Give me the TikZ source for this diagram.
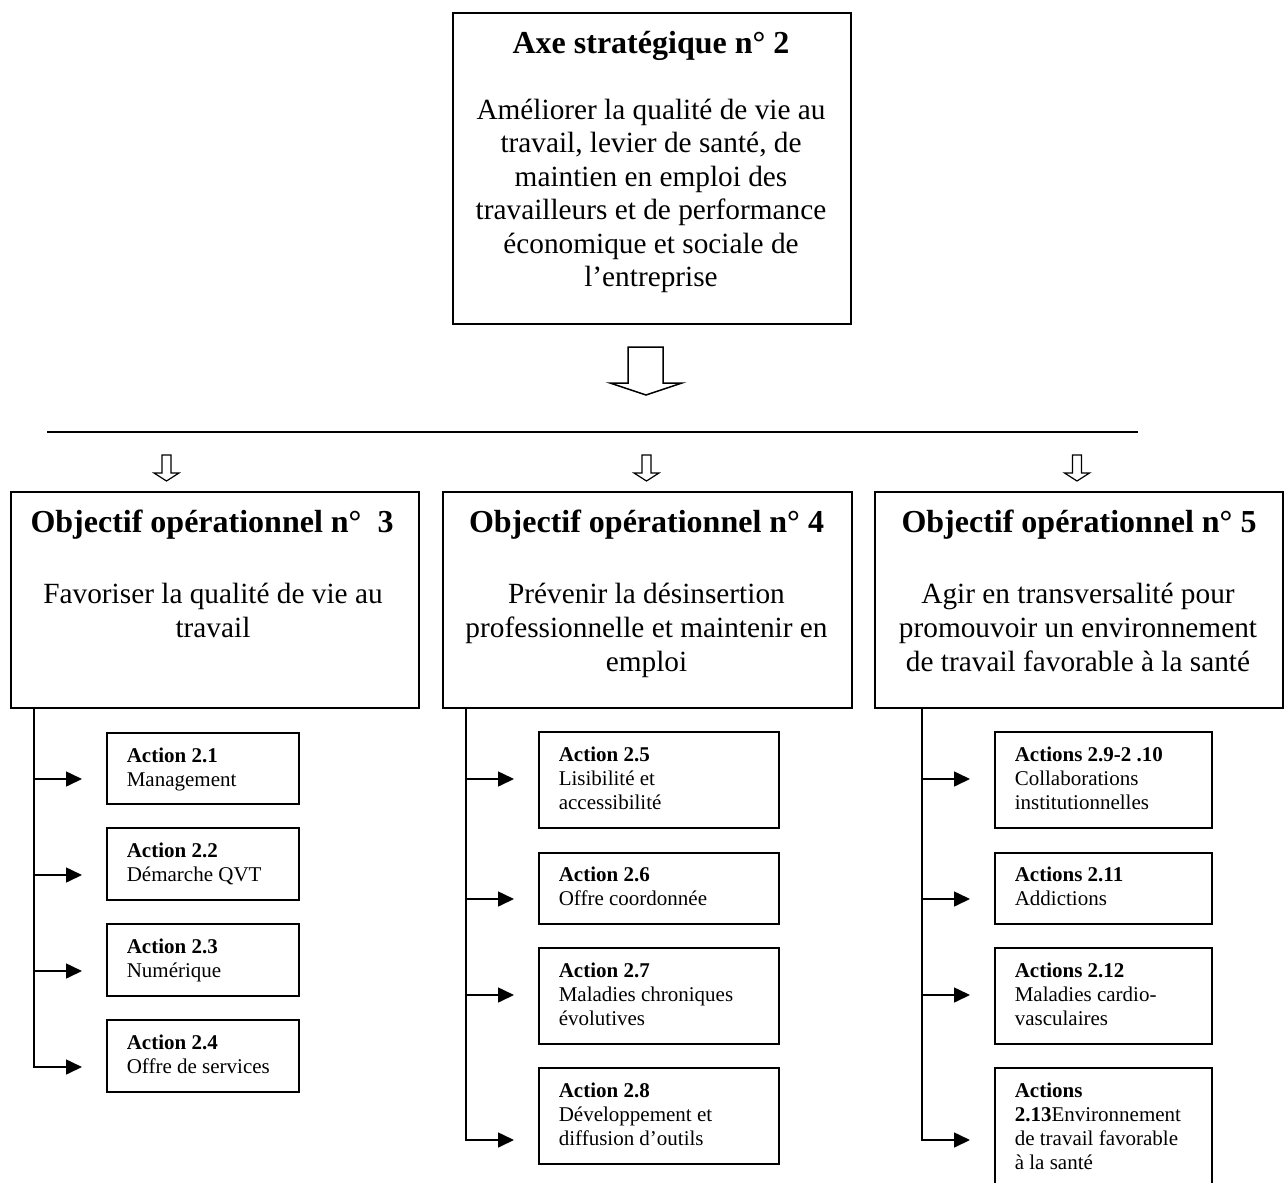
\documentclass[tikz,border=0pt]{standalone}
\usepackage{fontspec}
\setmainfont{Liberation Serif}
\usetikzlibrary{arrows.meta,calc}
\begin{document}
\begin{tikzpicture}[x=1pt,y=-1pt, line width=1.6pt,
  box/.style={draw, rectangle, inner sep=0pt, anchor=north west},
  ttl/.style={font=\fontsize{32}{38}\selectfont\bfseries, inner sep=0pt, anchor=base},
  topbody/.style={font=\fontsize{29.3}{33.5}\selectfont, align=center, inner sep=0pt, anchor=base},
  objbody/.style={font=\fontsize{29.3}{34}\selectfont, align=center, inner sep=0pt, anchor=base},
  act/.style={font=\fontsize{21}{24}\selectfont, align=left, inner sep=0pt, anchor=base west},
  arr/.style={-{Triangle[length=16pt,width=15pt]}, line width=1.6pt, shorten >=24pt},
  hollow/.style={draw, line width=1.3pt, fill=white, line join=miter},
  smallarrow/.pic={\draw[hollow, line width=1.2pt] (-4.5,0) -- (4.5,0) -- (4.5,18) -- (12.5,18) -- (0,26) -- (-12.5,18) -- (-4.5,18) -- cycle;}
]
\useasboundingbox (0,0) rectangle (1288,1183);
\clip (0,0) rectangle (1288,1183);

% top box (base anchor = baseline of last line)
\node[box, minimum width=398pt, minimum height=311pt] (axe) at (452,12) {};
\node[ttl] (axet) at (651,53) {Axe stratégique n° 2};
\node[topbody] (axeb) at (651,286.5) {Améliorer la qualité de vie au\\travail, levier de santé, de\\maintien en emploi des\\travailleurs et de performance\\économique et sociale de\\l’entreprise};

% big hollow arrow
\draw[hollow, line width=1.5pt] (628,347) -- (663,347) -- (663,383) -- (682,383) -- (646,395) -- (610,383) -- (628,383) -- cycle;

% horizontal line
\coordinate (lineL) at (47,432);
\coordinate (lineR) at (1138,432);
\draw (lineL) -- (lineR);

% small arrows
\pic at (166.5,455) {smallarrow};
\pic at (646.5,455) {smallarrow};
\pic at (1077,455) {smallarrow};

% objective boxes
\node[box, minimum width=408pt, minimum height=216pt] (o1) at (10,491) {};
\node[box, minimum width=409pt, minimum height=216pt] (o2) at (442,491) {};
\node[box, minimum width=408pt, minimum height=216pt] (o3) at (874,491) {};

\node[ttl] (o1t) at (212,532) {Objectif opérationnel n°\ \ 3};
\node[ttl] (o2t) at (646.5,532) {Objectif opérationnel n° 4};
\node[ttl] (o3t) at (1079,532) {Objectif opérationnel n° 5};

\node[objbody] (o1b) at (213,637) {Favoriser la qualité de vie au\\travail};
\node[objbody] (o2b) at (646.5,671) {Prévenir la désinsertion\\professionnelle et maintenir en\\emploi};
\node[objbody] (o3b) at (1078,671) {Agir en transversalité pour\\promouvoir un environnement\\de travail favorable à la santé};

% column 1 actions
\node[box, minimum width=192pt, minimum height=71pt] (a1) at (106,732) {};
\node[box, minimum width=192pt, minimum height=72pt] (a2) at (106,827) {};
\node[box, minimum width=192pt, minimum height=72pt] (a3) at (106,923) {};
\node[box, minimum width=192pt, minimum height=72pt] (a4) at (106,1019) {};
\node[act] (a1t) at ([xshift=20pt,yshift=-54pt]a1.north west) {\textbf{Action 2.1}\\Management};
\node[act] (a2t) at ([xshift=20pt,yshift=-54pt]a2.north west) {\textbf{Action 2.2}\\Démarche QVT};
\node[act] (a3t) at ([xshift=20pt,yshift=-54pt]a3.north west) {\textbf{Action 2.3}\\Numérique};
\node[act] (a4t) at ([xshift=20pt,yshift=-54pt]a4.north west) {\textbf{Action 2.4}\\Offre de services};

\coordinate (s1) at (34,707);
\coordinate (p1) at (34,779);
\coordinate (p2) at (34,875);
\coordinate (p3) at (34,971);
\coordinate (p4) at (34,1067);
\draw[arr] (p1) -- (p1 -| a1.west);
\draw[arr] (p2) -- (p2 -| a2.west);
\draw[arr] (p3) -- (p3 -| a3.west);
\draw[arr] (s1) -- (p4) -- (p4 -| a4.west);

% column 2 actions
\node[box, minimum width=240pt, minimum height=96pt] (a5) at (538,731) {};
\node[box, minimum width=240pt, minimum height=71pt] (a6) at (538,852) {};
\node[box, minimum width=240pt, minimum height=96pt] (a7) at (538,947) {};
\node[box, minimum width=240pt, minimum height=96pt] (a8) at (538,1067) {};
\node[act] (a5t) at ([xshift=20pt,yshift=-78pt]a5.north west) {\textbf{Action 2.5}\\Lisibilité et\\accessibilité};
\node[act] (a6t) at ([xshift=20pt,yshift=-53pt]a6.north west) {\textbf{Action 2.6}\\Offre coordonnée};
\node[act] (a7t) at ([xshift=20pt,yshift=-78pt]a7.north west) {\textbf{Action 2.7}\\Maladies chroniques\\évolutives};
\node[act] (a8t) at ([xshift=20pt,yshift=-78pt]a8.north west) {\textbf{Action 2.8}\\Développement et\\diffusion d’outils};

\coordinate (s2) at (466,707);
\coordinate (p5) at (466,779);
\coordinate (p6) at (466,899);
\coordinate (p7) at (466,995);
\coordinate (p8) at (466,1140);
\draw[arr] (p5) -- (p5 -| a5.west);
\draw[arr] (p6) -- (p6 -| a6.west);
\draw[arr] (p7) -- (p7 -| a7.west);
\draw[arr] (s2) -- (p8) -- (p8 -| a8.west);

% column 3 actions
\node[box, minimum width=217pt, minimum height=96pt] (a9) at (994,731) {};
\node[box, minimum width=217pt, minimum height=71pt] (a10) at (994,852) {};
\node[box, minimum width=217pt, minimum height=96pt] (a11) at (994,947) {};
\node[box, minimum width=217pt, minimum height=130pt] (a12) at (994,1067) {};
\node[act] (a9t) at ([xshift=20pt,yshift=-78pt]a9.north west) {\textbf{Actions 2.9-2 .10}\\Collaborations\\institutionnelles};
\node[act] (a10t) at ([xshift=20pt,yshift=-53pt]a10.north west) {\textbf{Actions 2.11}\\Addictions};
\node[act] (a11t) at ([xshift=20pt,yshift=-78pt]a11.north west) {\textbf{Actions 2.12}\\Maladies cardio-\\vasculaires};
\node[act] (a12t) at ([xshift=20pt,yshift=-102pt]a12.north west) {\textbf{Actions}\\\textbf{2.13}Environnement\\de travail favorable\\à la santé};

\coordinate (s3) at (922,707);
\coordinate (p9) at (922,779);
\coordinate (p10) at (922,899);
\coordinate (p11) at (922,995);
\coordinate (p12) at (922,1140);
\draw[arr] (p9) -- (p9 -| a9.west);
\draw[arr] (p10) -- (p10 -| a10.west);
\draw[arr] (p11) -- (p11 -| a11.west);
\draw[arr] (s3) -- (p12) -- (p12 -| a12.west);
\end{tikzpicture}
\end{document}
